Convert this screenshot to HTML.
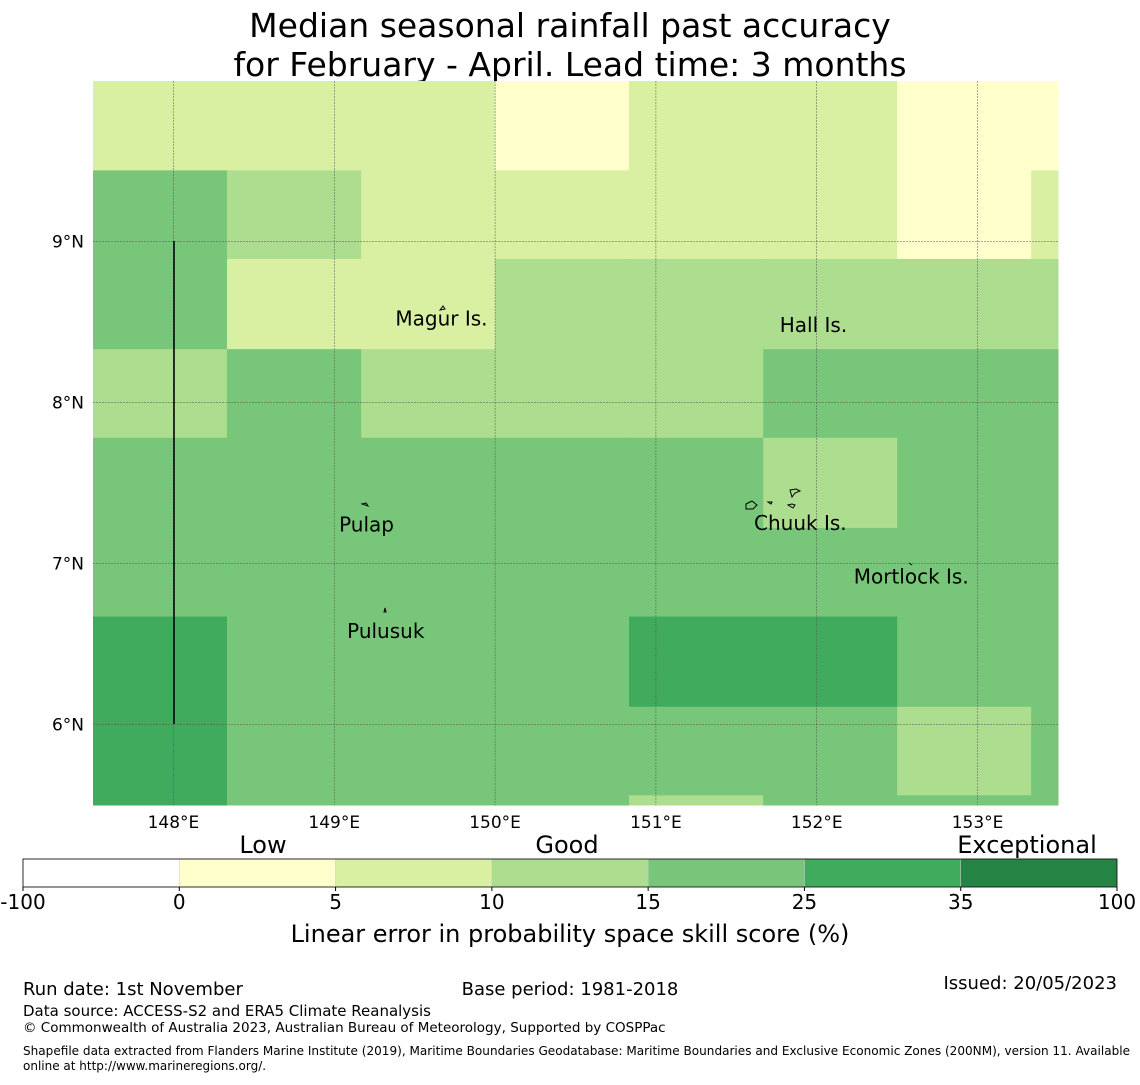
<!DOCTYPE html>
<html><head><meta charset="utf-8"><style>
body{margin:0;background:#fff;}
svg text{font-family:"DejaVu Sans","Liberation Sans",sans-serif;}
</style></head><body>
<svg id="chart" width="1140" height="1080" xmlns="http://www.w3.org/2000/svg">
<text x="570" y="37" font-size="33" text-anchor="middle">Median seasonal rainfall past accuracy</text>
<text x="570" y="76" font-size="33" text-anchor="middle">for February - April. Lead time: 3 months</text>
<g id="cells"></g>
<g id="grid"></g>
<line x1="174" y1="241" x2="174" y2="724" stroke="#000" stroke-width="1.5"/>
<g id="islands" fill="none" stroke="#000" stroke-width="1">
<path d="M440,310 l3,-4 l2,3 z"/>
<path d="M362,504 l4,-1 l2,3 z"/>
<path d="M384,612 l1,-4 l1,4 z"/>
<path d="M790,490 l6,-1 l4,2 l-5,2 l-3,4 z"/>
<path d="M746,504 l6,-3 l5,4 l-4,4 l-7,0 z"/>
<path d="M768,502 l4,0 l-1,2 z"/>
<path d="M788,505 l4,-1 l3,1 l-2,3 z"/>
<path d="M909,563 l3,2 z"/>
</g>
<g id="labels" font-size="20"></g>
<g id="axes" font-size="17"></g>
<g id="cbar"></g>
<text x="570" y="942" font-size="24" text-anchor="middle">Linear error in probability space skill score (%)</text>
<text x="23" y="995" font-size="18">Run date: 1st November</text>
<text x="570" y="995" font-size="18" text-anchor="middle">Base period: 1981-2018</text>
<text x="1117" y="989" font-size="18" text-anchor="end">Issued: 20/05/2023</text>
<text x="23" y="1016" font-size="15">Data source: ACCESS-S2 and ERA5 Climate Reanalysis</text>
<text x="23" y="1032" font-size="13.5">© Commonwealth of Australia 2023, Australian Bureau of Meteorology, Supported by COSPPac</text>
<text x="23" y="1055" font-size="12" textLength="1107" lengthAdjust="spacingAndGlyphs">Shapefile data extracted from Flanders Marine Institute (2019), Maritime Boundaries Geodatabase: Maritime Boundaries and Exclusive Economic Zones (200NM), version 11. Available</text>
<text x="23" y="1070" font-size="12">online at http://www.marineregions.org/.</text>
</svg>
<script>
const lonEdges=[147.5,148.333,149.167,150.0,150.833,151.667,152.5,153.333,153.5];
const latEdges=[10.0,9.44,8.89,8.33,7.78,7.22,6.67,6.11,5.56,5.5];
const skillLevels=[
[2,2,2,1,2,2,1,1],
[4,3,2,2,2,2,1,2],
[4,2,2,3,3,3,3,3],
[3,4,3,3,3,4,4,4],
[4,4,4,4,4,3,4,4],
[4,4,4,4,4,4,4,4],
[5,4,4,4,5,5,4,4],
[5,4,4,4,4,4,3,4],
[5,4,4,4,3,4,4,4]];
const levelColors=["#ffffff","#ffffcc","#d9f0a3","#addd8e","#78c679","#41ab5d","#238443"];
const lonTicks=[148,149,150,151,152,153];
const latTicks=[9,8,7,6];
const places=["Magur Is.","Hall Is.","Pulap","Chuuk Is.","Mortlock Is.","Pulusuk"];
const placeLon=[149.38,151.77,149.03,151.61,152.23,149.08];
const placeLat=[8.52,8.48,7.24,7.25,6.92,6.58];
const cbarTicks=["-100","0","5","10","15","25","35","100"];
const cbarCats=["Low","Good","Exceptional"];

const X0=93,X1=1058,LON0=147.5,LON1=153.5,Y0=81,Y1=805,LAT0=9.995,LAT1=5.5;
const xs=l=>X0+(l-LON0)/(LON1-LON0)*(X1-X0);
const ys=l=>Y0+(LAT0-l)/(LAT0-LAT1)*(Y1-Y0);
const NS="http://www.w3.org/2000/svg";
function mk(tag,parent,attrs){const e=document.createElementNS(NS,tag);for(const k in attrs)e.setAttribute(k,attrs[k]);parent.appendChild(e);return e;}
const cells=document.getElementById('cells');
skillLevels.forEach((row,r)=>row.forEach((v,c)=>{
 const y0=Math.max(Y0,ys(latEdges[r])),y1=ys(latEdges[r+1]);
 const x0=xs(lonEdges[c]),x1=xs(lonEdges[c+1]);
 const e=mk('rect',cells,{x:x0,y:y0,width:x1-x0+0.5,height:y1-y0+0.5,fill:levelColors[v]});
 
 
}));
const grid=document.getElementById('grid'),axes=document.getElementById('axes');
lonTicks.forEach(t=>{
 const x=xs(t);
 const l=mk('line',grid,{x1:x,x2:x,y1:Y0,y2:Y1,stroke:'#555','stroke-width':0.5,'stroke-dasharray':'2,1'});
 
 
 const tx=mk('text',axes,{x:x,y:828,'text-anchor':'middle'});tx.textContent=t+'°E';
 
 
});
latTicks.forEach(t=>{
 const y=ys(t);
 const l=mk('line',grid,{x1:X0,x2:X1,y1:y,y2:y,stroke:'#555','stroke-width':0.5,'stroke-dasharray':'2,1'});
 
 
 const tx=mk('text',axes,{x:84,y:y+6,'text-anchor':'end'});tx.textContent=t+'°N';
 
 
});
const labels=document.getElementById('labels');
places.forEach((p,i)=>{
 const t=mk('text',labels,{x:xs(placeLon[i]),y:ys(placeLat[i])+7});t.textContent=p;
 
 
});
const cb=document.getElementById('cbar');
const CX0=23,CX1=1117,CY=859,CH=28,n=levelColors.length,w=(CX1-CX0)/n;
levelColors.forEach((c,i)=>{
 const r=mk('rect',cb,{x:CX0+i*w,y:CY,width:w,height:CH,fill:c,stroke:'#ccc','stroke-width':0.5});
 
 
});
mk('rect',cb,{x:CX0,y:CY,width:CX1-CX0,height:CH,fill:'none',stroke:'#000','stroke-width':0.8});
cbarTicks.forEach((t,i)=>{
 const x=CX0+i*w;
 mk('line',cb,{x1:x,x2:x,y1:CY+CH,y2:CY+CH+4,stroke:'#000'});
 const tx=mk('text',cb,{x:x,y:909,'font-size':20,'text-anchor':'middle'});tx.textContent=t;
 
 
});
const catX=[263,567,1027];
cbarCats.forEach((c,i)=>{
 const tx=mk('text',cb,{x:catX[i],y:853,'font-size':24,'text-anchor':'middle'});tx.textContent=c;
 
 
});
</script>
</body></html>
